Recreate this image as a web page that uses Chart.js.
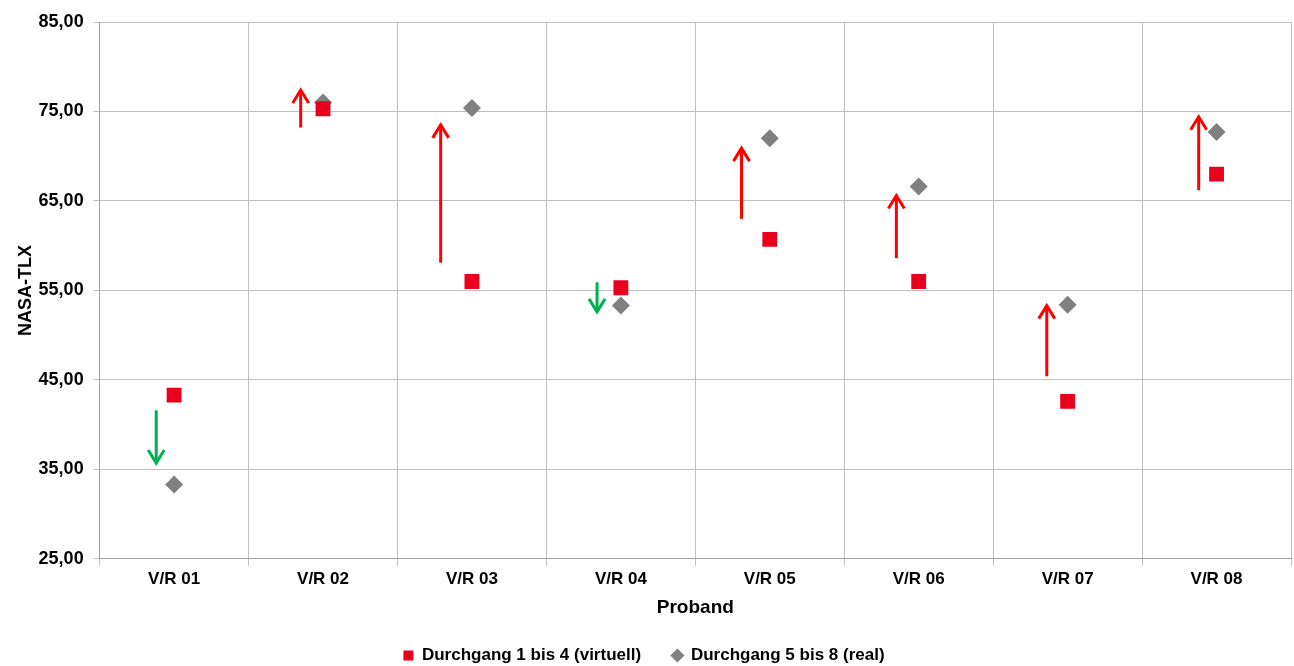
<!DOCTYPE html>
<html>
<head>
<meta charset="utf-8">
<script src="https://cdn.jsdelivr.net/npm/chart.js@4/dist/chart.umd.min.js"></script>
<style>
  html, body { margin: 0; padding: 0; background: #fff; overflow: hidden; }
  #wrap { width: 1294px; height: 666px; }
</style>
</head>
<body>
<div id="wrap"><canvas id="chart"></canvas></div>
<script>
// categories and values
const probanden = ['V/R 01', 'V/R 02', 'V/R 03', 'V/R 04', 'V/R 05', 'V/R 06', 'V/R 07', 'V/R 08'];
const virtuell = [43.3, 75.3, 56.0, 55.3, 60.7, 56.0, 42.6, 68.0];
const real = [33.3, 76.0, 75.4, 53.3, 72.0, 66.6, 53.4, 72.7];

// hand drawn arrows: start and end value, side offset in category units
const arrowFrom = [41.6, 73.2, 58.1, 55.9, 63.0, 58.6, 45.4, 66.2];
const arrowTo = [35.7, 77.4, 73.5, 52.6, 70.9, 65.6, 53.3, 74.4];
const arrowShift = [-0.12, -0.15, -0.21, -0.16, -0.19, -0.15, -0.14, -0.12];

const yTicks = [25, 35, 45, 55, 65, 75, 85];

const fontBold = { family: '"Liberation Sans", Arial, sans-serif', weight: 'bold' };

// draws the arrows between the two runs
const arrowPlugin = {
    id: 'arrows',
    afterDatasetsDraw(chart) {
        const { ctx, scales } = chart;
        const xs = scales.x, ys = scales.y;
        const step = xs.getPixelForValue(1) - xs.getPixelForValue(0);
        ctx.save();
        ctx.lineWidth = 3;
        ctx.lineCap = 'butt';
        arrowFrom.forEach((from, i) => {
            const to = arrowTo[i];
            const x = xs.getPixelForValue(i) + arrowShift[i] * step;
            const y0 = ys.getPixelForValue(from);
            const y1 = ys.getPixelForValue(to);
            const dir = y1 < y0 ? 1 : -1;
            ctx.strokeStyle = to > from ? '#FF0000' : '#00B050';
            ctx.beginPath();
            ctx.moveTo(x, y0);
            ctx.lineTo(x, y1 + dir * 1);
            ctx.stroke();
            ctx.beginPath();
            ctx.moveTo(x - 8, y1 + dir * 13);
            ctx.lineTo(x, y1);
            ctx.lineTo(x + 8, y1 + dir * 13);
            ctx.stroke();
        });
        ctx.restore();
    }
};

new Chart(document.getElementById('chart'), {
    type: 'line',
    data: {
        labels: probanden,
        datasets: [
            {
                label: 'Durchgang 1 bis 4 (virtuell)',
                data: virtuell,
                showLine: false,
                pointStyle: 'rect',
                pointRadius: 10.5,
                pointBackgroundColor: '#E8001C',
                pointBorderColor: '#E8001C',
                pointBorderWidth: 0,
                backgroundColor: '#E8001C',
                borderColor: '#E8001C'
            },
            {
                label: 'Durchgang 5 bis 8 (real)',
                data: real,
                showLine: false,
                pointStyle: 'rectRot',
                pointRadius: 9,
                pointBackgroundColor: '#808080',
                pointBorderColor: '#808080',
                pointBorderWidth: 0,
                backgroundColor: '#808080',
                borderColor: '#808080'
            }
        ]
    },
    options: {
        responsive: true,
        maintainAspectRatio: false,
        animation: false,
        layout: { autoPadding: false, padding: { left: -3, right: 3, top: 22, bottom: -8 } },
        plugins: {
            legend: {
                position: 'bottom',
                labels: {
                    usePointStyle: true,
                    boxWidth: 10,
                    boxHeight: 10,
                    padding: 3,
                    color: '#000',
                    font: { ...fontBold, size: 17 },
                    // extra space after the first entry, like the original legend
                    generateLabels: (chart) => {
                        const items = Chart.defaults.plugins.legend.labels.generateLabels(chart);
                        items[0].text += '      ';
                        return items;
                    }
                }
            },
            tooltip: { enabled: false }
        },
        scales: {
            x: {
                offset: true,
                grid: { offset: true, color: '#BFBFBF', lineWidth: 1, tickLength: 7 },
                border: { color: '#A0A0A0' },
                ticks: { color: '#000', font: { ...fontBold, size: 17 }, padding: 3 },
                title: {
                    display: true,
                    text: 'Proband',
                    color: '#000',
                    font: { ...fontBold, size: 19 },
                    padding: { top: 4, bottom: 25 }
                }
            },
            y: {
                min: 25,
                max: 85,
                afterBuildTicks: (axis) => { axis.ticks = yTicks.map(v => ({ value: v })); },
                grid: { color: '#BFBFBF', lineWidth: 1, tickLength: 6 },
                border: { color: '#A0A0A0' },
                ticks: {
                    color: '#000',
                    font: { ...fontBold, size: 18 },
                    padding: 10,
                    callback: (v) => v.toFixed(2).replace('.', ',')
                },
                title: {
                    display: true,
                    text: 'NASA-TLX',
                    color: '#000',
                    font: { ...fontBold, size: 18 },
                    padding: { top: 18, bottom: -8 }
                }
            }
        }
    },
    plugins: [arrowPlugin]
});
</script>
</body>
</html>
